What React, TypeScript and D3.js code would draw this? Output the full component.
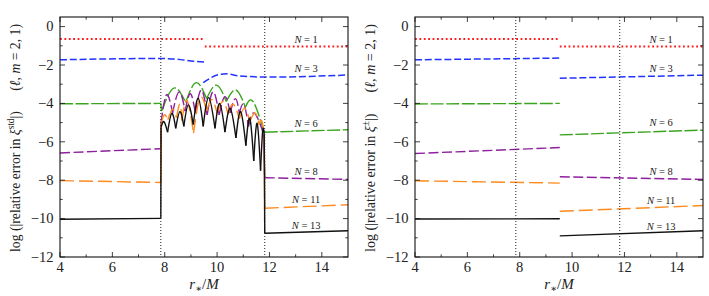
import React from "react";
import * as d3 from "d3";

type Pt = [number, number];

const W = 709;
const H = 296;

const xDomain = [4, 15];
const yDomain = [-12, 0.5];
const xTicks = [4, 6, 8, 10, 12, 14];
const xMinor = [5, 7, 9, 11, 13];
const yTicks = [-12, -10, -8, -6, -4, -2, 0];
const yMinor = [-11, -9, -7, -5, -3, -1];
const markerX = [7.85, 11.82];

const seriesN = [1, 3, 6, 8, 11, 13];
const colors = ["#ff1a1a", "#2233ff", "#3aa51c", "#8e1f9e", "#ff8a1f", "#111111"];
const dashes = ["1.8 2.6", "7 2.8", "13 2.6", "10 3.5", "14 5", ""];
const widths = [2, 1.5, 1.4, 1.4, 1.4, 1.4];

const labelX = 13.4;
const stdLabelY = [-0.84, -2.35, -5.22, -7.75, -9.2, -10.52];
const pmLabelY = [-0.84, -2.35, -5.2, -7.72, -9.25, -10.6];

// left panel, xi^std
const stdBefore: Pt[][] = [
  [[4, -0.64], [9.53, -0.64]],
  [[4, -1.73], [7.85, -1.66], [8.6, -1.72], [9.1, -1.8], [9.53, -1.85]],
  [[4, -4.02], [7.85, -4.0]],
  [[4, -6.58], [7.85, -6.36]],
  [[4, -8.02], [7.85, -8.12]],
  [[4, -10.03], [7.85, -9.99]],
];
const stdAfter: Pt[][] = [
  [[9.53, -1.03], [15, -1.03]],
  [[9.47, -2.92], [9.75, -2.68], [10.0, -2.52], [10.36, -2.46], [10.85, -2.57], [12, -2.63], [15, -2.52]],
  [[11.82, -5.5], [15, -5.37]],
  [[11.82, -7.87], [15, -7.96]],
  [[11.82, -9.46], [15, -9.28]],
  [[11.82, -10.76], [15, -10.63]],
];

// oscillating part between the markers: start, peak, cusp, peak, ... , end
const osc6: Pt[] = [
  [7.88, -4.4], [8.35, -3.2], [8.8, -3.95], [9.2, -2.92], [9.6, -3.75], [9.98, -3.05],
  [10.35, -3.9], [10.72, -3.3], [11.08, -4.2], [11.37, -3.9], [11.8, -5.5],
];
const osc8: Pt[] = [
  [7.86, -5.0], [8.07, -3.55], [8.3, -4.5], [8.55, -3.4], [8.78, -4.4], [8.98, -3.5],
  [9.17, -4.5], [9.4, -3.3], [9.62, -4.6], [9.85, -3.4], [10.08, -4.6], [10.3, -3.65],
  [10.5, -4.5], [10.7, -3.75], [10.85, -4.5], [11.02, -4.05], [11.2, -5.2], [11.42, -4.5],
  [11.78, -5.6],
];
const osc11: Pt[] = [
  [7.86, -5.1], [7.98, -4.6], [8.12, -4.85], [8.3, -4.3], [8.45, -4.75], [8.58, -4.05],
  [8.66, -4.9], [8.85, -3.85], [9.1, -5.55], [9.35, -3.7], [9.6, -4.4], [9.8, -3.8],
  [10.0, -4.5], [10.22, -3.9], [10.42, -4.55], [10.62, -4.05], [10.85, -4.8], [11.05, -4.25],
  [11.25, -4.95], [11.45, -4.5], [11.6, -5.1], [11.7, -4.9], [11.8, -5.6],
];
const osc13: Pt[] = [
  [7.86, -5.25], [7.97, -4.95], [8.11, -5.5], [8.27, -4.52], [8.42, -5.3], [8.58, -4.43],
  [8.73, -5.2], [8.9, -4.08], [9.09, -5.1], [9.28, -3.73], [9.47, -5.2], [9.68, -3.7],
  [9.92, -5.3], [10.1, -4.0], [10.3, -5.5], [10.5, -4.26], [10.72, -5.8], [10.9, -4.43],
  [11.1, -6.2], [11.25, -4.78], [11.4, -7.0], [11.53, -5.04], [11.66, -7.5], [11.74, -5.45],
  [11.8, -5.6],
];
const stdOsc: (Pt[] | null)[] = [null, null, osc6, osc8, osc11, osc13];

// right panel, xi^pm
const pmBefore: Pt[][] = [
  [[4, -0.64], [9.53, -0.64]],
  [[4, -1.73], [9.53, -1.64]],
  [[4, -4.03], [9.53, -4.0]],
  [[4, -6.61], [9.53, -6.3]],
  [[4, -8.03], [9.53, -8.15]],
  [[4, -10.02], [9.53, -10.01]],
];
const pmAfter: Pt[][] = [
  [[9.53, -1.03], [15, -1.03]],
  [[9.53, -2.69], [15, -2.53]],
  [[9.53, -5.64], [15, -5.39]],
  [[9.53, -7.82], [15, -7.96]],
  [[9.53, -9.62], [15, -9.32]],
  [[9.53, -10.9], [15, -10.63]],
];

const FONT = "'Liberation Serif', 'DejaVu Serif', serif";
const fmt = (v: number) => (v < 0 ? "\u2212" + Math.abs(v) : String(v));

function Panel({ left, before, after, osc, labelY, sup }: {
  left: number; before: Pt[][]; after: Pt[][]; osc: (Pt[] | null)[]; labelY: number[]; sup: string;
}) {
  const top = 17, bottom = 257, width = 288;
  const x = d3.scaleLinear().domain(xDomain).range([left, left + width]);
  const y = d3.scaleLinear().domain(yDomain).range([bottom, top]);
  const smooth = d3.line<Pt>().x(d => x(d[0])).y(d => y(d[1])).curve(d3.curveMonotoneX);
  const straight = d3.line<Pt>().x(d => x(d[0])).y(d => y(d[1]));
  const arc = d3.line<Pt>().x(d => x(d[0])).y(d => y(d[1])).curve(d3.curveNatural);
  const x0 = left, x1 = left + width;

  return (
    <g>
      {seriesN.map((n, i) => {
        const style = {
          fill: "none", stroke: colors[i], strokeWidth: widths[i],
          strokeDasharray: dashes[i] || undefined,
        };
        const o = osc[i];
        const arcs: Pt[][] = [];
        if (o) for (let k = 0; k + 2 < o.length; k += 2) arcs.push(o.slice(k, k + 3));
        return (
          <g key={n}>
            <path d={smooth(before[i]) || ""} style={style} />
            <path d={smooth(after[i]) || ""} style={style} />
            {o && (
              <>
                <path d={straight([before[i][before[i].length - 1], o[0]]) || ""}
                  style={{ ...style, strokeDasharray: undefined }} />
                <path d={straight([o[o.length - 1], after[i][0]]) || ""}
                  style={{ ...style, strokeDasharray: undefined }} />
                {arcs.map((a, k) => <path key={k} d={arc(a) || ""} style={style} />)}
              </>
            )}
          </g>
        );
      })}
      {markerX.map(v => (
        <line key={v} x1={x(v)} x2={x(v)} y1={top} y2={bottom}
          stroke="#222" strokeWidth={1} strokeDasharray="1 2" />
      ))}
      {seriesN.map((n, i) => (
        <text key={n} x={x(labelX)} y={y(labelY[i])} textAnchor="middle"
          fontFamily={FONT} fontSize={10.5} fill="#222">
          <tspan fontStyle="italic">N</tspan> = {n}
        </text>
      ))}
      <rect x={x0} y={top} width={width} height={bottom - top} fill="none" stroke="#111" strokeWidth={1.1} />
      {xTicks.concat(xMinor).map(v => {
        const len = xTicks.includes(v) ? 5 : 2.7;
        return (
          <g key={"x" + v} stroke="#111" strokeWidth={0.8}>
            <line x1={x(v)} x2={x(v)} y1={bottom} y2={bottom - len} />
            <line x1={x(v)} x2={x(v)} y1={top} y2={top + len} />
          </g>
        );
      })}
      {yTicks.concat(yMinor).map(v => {
        const len = yTicks.includes(v) ? 5 : 2.7;
        return (
          <g key={"y" + v} stroke="#111" strokeWidth={0.8}>
            <line x1={x0} x2={x0 + len} y1={y(v)} y2={y(v)} />
            <line x1={x1} x2={x1 - len} y1={y(v)} y2={y(v)} />
          </g>
        );
      })}
      {xTicks.map(v => (
        <text key={"xl" + v} x={x(v)} y={271.5} textAnchor="middle" fontFamily={FONT} fontSize={14.5} fill="#222">
          {fmt(v)}
        </text>
      ))}
      {yTicks.map(v => (
        <text key={"yl" + v} x={x0 - 6.5} y={y(v) + 4.8} textAnchor="end" fontFamily={FONT} fontSize={14.5} fill="#222">
          {fmt(v)}
        </text>
      ))}
      <text x={x0 + width / 2} y={289} textAnchor="middle" fontFamily={FONT} fontSize={15} fill="#222">
        <tspan fontStyle="italic">r</tspan>
        <tspan fontSize={10} dy={3}>{"\u2217"}</tspan>
        <tspan dy={-3}>/</tspan>
        <tspan fontStyle="italic">M</tspan>
      </text>
      <text transform={`translate(${x0 - 40},138) rotate(-90)`} textAnchor="middle"
        fontFamily={FONT} fontSize={15} fill="#222" textLength={228} lengthAdjust="spacingAndGlyphs">
        log (|relative error in <tspan fontStyle="italic">ξ</tspan>
        <tspan fontSize={10} dy={-6}>{sup}</tspan>
        <tspan dy={6}>|)</tspan>
        {"\u2003\u2002("}<tspan fontStyle="italic">ℓ</tspan>, <tspan fontStyle="italic">m</tspan> = 2, 1)
      </text>
    </g>
  );
}

export default function App() {
  return (
    <svg width={W} height={H} style={{ position: "absolute", left: 0, top: 0, background: "#fff" }}>
      <Panel left={60} before={stdBefore} after={stdAfter} osc={stdOsc} labelY={stdLabelY} sup="std" />
      <Panel left={415} before={pmBefore} after={pmAfter} osc={[null, null, null, null, null, null]}
        labelY={pmLabelY} sup="±" />
    </svg>
  );
}
